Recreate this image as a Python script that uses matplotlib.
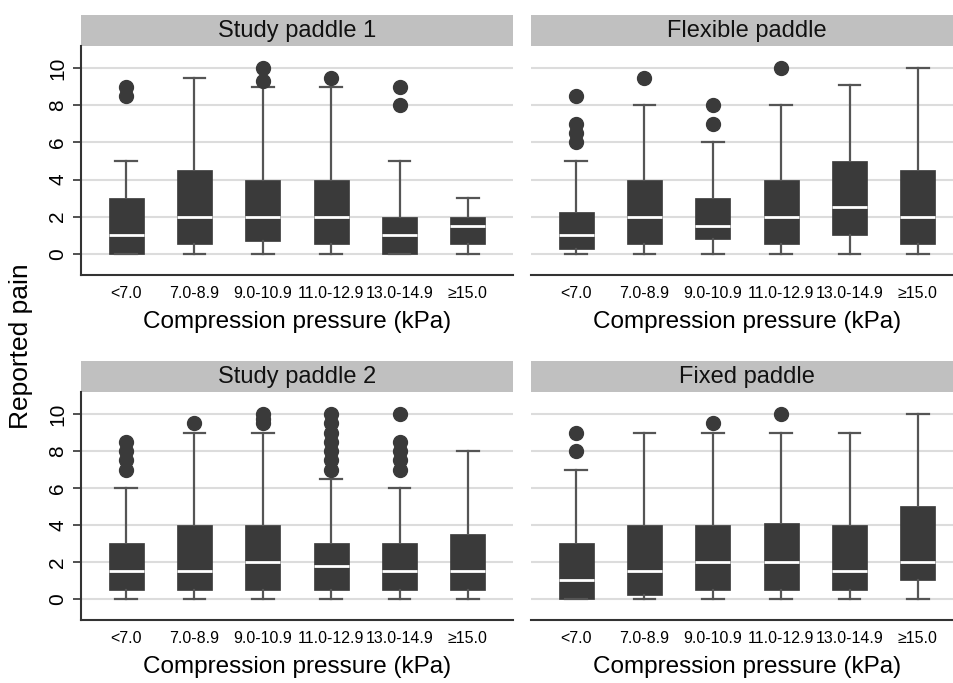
import matplotlib
matplotlib.use('Agg')
import matplotlib.pyplot as plt
from matplotlib.patches import Rectangle

plt.rcParams['font.family'] = ['Liberation Sans', 'DejaVu Sans']

categories = ['<7.0', '7.0-8.9', '9.0-10.9', '11.0-12.9', '13.0-14.9', '≥15.0']
panel_titles = ['Study paddle 1', 'Flexible paddle', 'Study paddle 2', 'Fixed paddle']

# Study paddle 1
sp1_q1 = [0, 0.5, 0.67, 0.5, 0, 0.5]
sp1_med = [1, 2, 2, 2, 1, 1.5]
sp1_q3 = [3, 4.5, 4, 4, 2, 2]
sp1_lo = [0, 0, 0, 0, 0, 0]
sp1_hi = [5, 9.5, 9, 9, 5, 3]
sp1_out = [[8.5, 9], [], [9.3, 10], [9.5], [8, 9], []]

# Flexible paddle
fl_q1 = [0.25, 0.5, 0.8, 0.5, 1, 0.5]
fl_med = [1, 2, 1.5, 2, 2.5, 2]
fl_q3 = [2.25, 4, 3, 4, 5, 4.5]
fl_lo = [0, 0, 0, 0, 0, 0]
fl_hi = [5, 8, 6, 8, 9.1, 10]
fl_out = [[6, 6.5, 7, 8.5], [9.5], [7, 8], [10], [], []]

# Study paddle 2
sp2_q1 = [0.5, 0.5, 0.5, 0.5, 0.5, 0.5]
sp2_med = [1.5, 1.5, 2, 1.8, 1.5, 1.5]
sp2_q3 = [3, 4, 4, 3, 3, 3.5]
sp2_lo = [0, 0, 0, 0, 0, 0]
sp2_hi = [6, 9, 9, 6.5, 6, 8]
sp2_out = [[7, 7.5, 8, 8.5], [9.5], [9.5, 9.75, 10],
           [7, 7.5, 8, 8.5, 9, 9.5, 10], [7, 7.5, 8, 8.5, 10], []]

# Fixed paddle
fx_q1 = [0, 0.2, 0.5, 0.5, 0.5, 1]
fx_med = [1, 1.5, 2, 2, 1.5, 2]
fx_q3 = [3, 4, 4, 4.1, 4, 5]
fx_lo = [0, 0, 0, 0, 0, 0]
fx_hi = [7, 9, 9, 9, 9, 10]
fx_out = [[8, 9], [], [9.5], [10], [], []]

panels = [
    (sp1_q1, sp1_med, sp1_q3, sp1_lo, sp1_hi, sp1_out),
    (fl_q1, fl_med, fl_q3, fl_lo, fl_hi, fl_out),
    (sp2_q1, sp2_med, sp2_q3, sp2_lo, sp2_hi, sp2_out),
    (fx_q1, fx_med, fx_q3, fx_lo, fx_hi, fx_out),
]

W, H = 954, 683
fig = plt.figure(figsize=(W / 100, H / 100), dpi=100)

ax_w = 432
tops = [275, 620]
heights = [229, 228]
lefts = [81, 531]

box_col = '#3a3a3a'
whisk_col = '#555555'

for i, (q1, med, q3, lo, hi, out) in enumerate(panels):
    row, col = divmod(i, 2)
    left = lefts[col]
    bottom = tops[row]
    h = heights[row]
    ax = fig.add_axes([left / W, (H - bottom) / H, ax_w / W, h / H])

    stats = []
    for k in range(len(categories)):
        stats.append({'q1': q1[k], 'med': med[k], 'q3': q3[k],
                      'whislo': lo[k], 'whishi': hi[k], 'fliers': out[k]})
    ax.bxp(stats, positions=range(len(categories)), widths=0.51,
           patch_artist=True, capwidths=0.32,
           boxprops=dict(facecolor=box_col, edgecolor=box_col, linewidth=0.5),
           medianprops=dict(color='white', linewidth=2.0),
           whiskerprops=dict(color=whisk_col, linewidth=1.6),
           capprops=dict(color=whisk_col, linewidth=1.6),
           flierprops=dict(marker='o', markerfacecolor=box_col, markeredgecolor=box_col,
                           markersize=10))

    ax.set_xlim(-0.66, 5.66)
    ax.set_ylim(-1.15, 11.2)
    ax.set_yticks([0, 2, 4, 6, 8, 10])
    ax.grid(axis='y', color='#dcdcdc', linewidth=1.5)
    ax.set_axisbelow(True)
    ax.set_xticks(range(len(categories)))
    ax.set_xticklabels(categories, fontsize=11.5)
    ax.tick_params(axis='x', length=0, pad=8)
    for s in ['top', 'right']:
        ax.spines[s].set_visible(False)
    ax.spines['bottom'].set_color('#333333')
    ax.spines['bottom'].set_linewidth(1.5)
    if col == 0:
        ax.spines['left'].set_color('#333333')
        ax.spines['left'].set_linewidth(1.5)
        ax.tick_params(axis='y', length=6, width=1.2, color='#333333', labelsize=15, pad=4)
        for t in ax.get_yticklabels():
            t.set_rotation(90)
            t.set_va('center')
    else:
        ax.spines['left'].set_visible(False)
        ax.tick_params(axis='y', length=0, labelleft=False)
    ax.set_xlabel('Compression pressure (kPa)', fontsize=17.5, labelpad=7)

    hdr_h = 31 / h
    ax.add_patch(Rectangle((0, 1), 1, hdr_h, transform=ax.transAxes,
                           facecolor='#c0c0c0', edgecolor='none', clip_on=False))
    ax.text(0.5, 1 + hdr_h / 2, panel_titles[i], transform=ax.transAxes,
            ha='center', va='center', fontsize=17, color='#111111')

fig.text(21 / W, 1 - 346 / H, 'Reported pain', rotation=90, ha='center', va='center', fontsize=19)

fig.savefig('out.png', dpi=100)
